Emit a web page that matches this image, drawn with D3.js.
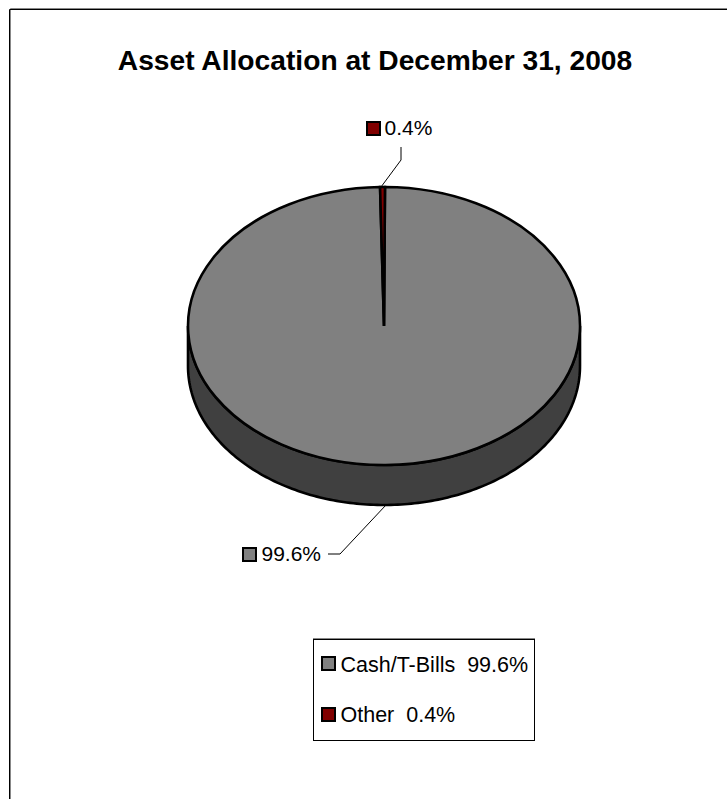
<!DOCTYPE html>
<html>
<head>
<meta charset="utf-8">
<script src="https://cdnjs.cloudflare.com/ajax/libs/d3/7.8.5/d3.min.js"></script>
<style>
  html, body { margin: 0; padding: 0; background: #fff; }
  svg { display: block; }
  text { font-family: "Liberation Sans", Arial, sans-serif; fill: #000; }
</style>
</head>
<body>
<svg id="chart" width="727" height="799"></svg>
<script>
// Data
var categories = ["Cash/T-Bills", "Other"];
var values = [99.6, 0.4];
var valueLabels = ["99.6%", "0.4%"];
var sliceColors = ["#808080", "#800000"];
var chartTitle = "Asset Allocation at December 31, 2008";

var svg = d3.select("#chart");

// frame, only top and left show in the picture (gray edge beside the black)
svg.append("path")
    .attr("d", "M10.5,799V8.5H727")
    .attr("fill", "none").attr("stroke", "#888").attr("stroke-width", 1);
svg.append("path")
    .attr("d", "M9.5,799V9.5H727")
    .attr("fill", "none").attr("stroke", "#000").attr("stroke-width", 1);

svg.append("text")
    .attr("x", 375)
    .attr("y", 70)
    .attr("text-anchor", "middle")
    .attr("font-size", 28.2)
    .attr("font-weight", "bold")
    .text(chartTitle);

// pie, flattened with a scale so it looks tilted
var cx = 384, cy = 326, rx = 196, ry = 139, depth = 40;
var startAngle = 0.005;

var pie = d3.pie().sort(null)
    .startAngle(startAngle).endAngle(2 * Math.PI + startAngle)
    .value(function(d) { return d; });
var arc = d3.arc().innerRadius(0).outerRadius(rx);

// side wall
var side = d3.area()
    .x(function(d) { return cx + rx * Math.cos(d); })
    .y0(function(d) { return cy + ry * Math.sin(d); })
    .y1(function(d) { return cy + depth + ry * Math.sin(d); });

svg.append("path")
    .datum(d3.range(0, 181).map(function(a) { return a * Math.PI / 180; }))
    .attr("d", side)
    .attr("fill", "#404040")
    .attr("stroke", "#000")
    .attr("stroke-width", 2.6);

// top of the pie
var top_g = svg.append("g")
    .attr("transform", "translate(" + cx + "," + cy + ") scale(1," + (ry / rx) + ")");

top_g.selectAll("path")
    .data(pie(values))
    .enter().append("path")
    .attr("d", arc)
    .attr("fill", function(d, i) { return sliceColors[i]; })
    .attr("stroke", "#000")
    .attr("stroke-width", 2.6)
    .attr("vector-effect", "non-scaling-stroke");

// leader lines
var leaders = d3.line();
svg.append("path")
    .attr("d", leaders([[401, 147], [401, 160], [381, 187]]))
    .attr("fill", "none").attr("stroke", "#000").attr("stroke-width", 1);
svg.append("path")
    .attr("d", leaders([[328, 554], [340, 554], [386, 505]]))
    .attr("fill", "none").attr("stroke", "#000").attr("stroke-width", 1);

function swatch(x, y, color) {
  svg.append("rect")
      .attr("x", x).attr("y", y).attr("width", 13).attr("height", 13)
      .attr("fill", color).attr("stroke", "#000").attr("stroke-width", 2);
}

// data labels
swatch(367, 122, sliceColors[1]);
svg.append("text").attr("x", 384.5).attr("y", 135).attr("font-size", 21).text(valueLabels[1]);
swatch(243, 548, sliceColors[0]);
svg.append("text").attr("x", 261.5).attr("y", 561).attr("font-size", 21).text(valueLabels[0]);

// legend
svg.append("path")
    .attr("d", "M313,638.5H535")
    .attr("stroke", "#888").attr("fill", "none");
svg.append("rect")
    .attr("x", 313.5).attr("y", 639.5).attr("width", 221).attr("height", 101)
    .attr("fill", "#fff").attr("stroke", "#000");

categories.forEach(function(c, i) {
  var y = 657 + i * 51;
  swatch(322, y, sliceColors[i]);
  svg.append("text")
      .attr("x", 340.5).attr("y", y + 15 - i).attr("font-size", 21.5)
      .style("white-space", "pre")
      .text(c + "  " + valueLabels[i]);
});
</script>
</body>
</html>
